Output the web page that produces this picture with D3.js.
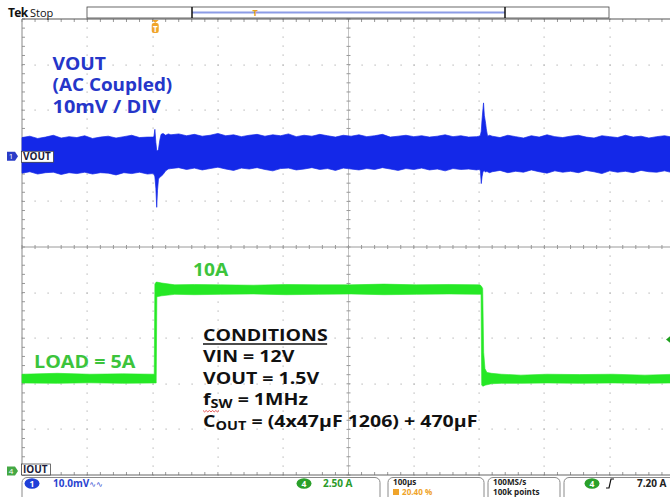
<!DOCTYPE html>
<html><head><meta charset="utf-8">
<script src="https://cdn.jsdelivr.net/npm/d3@7"></script>
<style>
html,body{margin:0;padding:0;background:#fff;overflow:hidden;}
svg{display:block;}
text{font-family:"Open Sans",sans-serif;}
</style></head><body>
<svg id="c" width="670" height="497"></svg>
<script>
// ---------------- DATA ----------------
// time in µs relative to trigger (100 µs/div, 20.40 % pre-trigger)
const timeDomain = [-204, 796];
// Channel 1: VOUT (AC coupled) noise envelope, mV
const voutTime = [-204,-192,-180,-168,-156,-144,-132,-120,-108,-96,-84,-72,-60,-48,-36,-24,-12,
  -4,-2,-0.5,1,2.3,3.5,5,7,9,12,16,20,
  24,36,48,60,72,84,96,108,120,132,144,156,168,180,192,204,216,228,240,252,264,276,288,300,312,324,336,348,360,372,384,396,408,420,432,444,456,468,480,492,
  496,498,499.3,500.5,502,502.8,504,506,507,509,512,
  516,528,540,552,564,576,588,600,612,624,636,648,660,672,684,696,708,720,732,744,756,768,780,792,796];
const voutHigh = [4.1,4.4,3.9,4.2,4.6,4.0,4.3,4.1,4.5,3.9,4.2,4.4,4.0,4.3,4.6,4.1,4.2,
  4.2,4.3,5.9,3.0,1.3,1.2,1.5,3.5,4.8,5.0,4.6,4.9,
  4.7,4.9,4.5,4.8,4.4,4.6,5.0,4.5,4.7,4.3,4.6,4.8,4.4,4.7,4.5,4.9,4.3,4.6,4.4,4.8,4.5,4.2,4.6,4.4,4.7,4.3,4.5,4.8,4.2,4.4,4.6,4.3,4.5,4.2,4.4,4.7,4.3,4.5,4.2,4.3,
  4.4,4.6,5.5,8.0,10.5,11.7,9.0,7.2,6.0,4.4,4.6,
  4.4,4.1,4.6,4.3,4.0,4.5,4.2,4.7,4.3,4.1,4.4,4.6,4.2,4.0,4.5,4.3,4.1,4.6,4.2,4.4,4.0,4.3,4.5,4.2,4.3];
const voutLow = [-3.7,-3.4,-3.9,-3.6,-3.5,-4.0,-3.6,-3.8,-3.5,-3.9,-3.6,-3.7,-4.1,-3.6,-3.8,-3.5,-3.9,
  -3.8,-3.9,-4.5,-7.0,-11.2,-7.5,-5.0,-4.6,-4.4,-4.0,-3.2,-2.8,
  -2.7,-2.5,-2.9,-2.6,-3.0,-2.7,-2.4,-2.8,-3.1,-2.6,-2.8,-2.5,-2.9,-3.2,-2.7,-2.6,-3.0,-2.8,-2.5,-2.9,-2.7,-3.1,-2.6,-2.8,-3.0,-2.7,-2.9,-2.5,-2.8,-3.1,-2.7,-2.9,-2.6,-3.0,-2.8,-3.2,-2.7,-2.9,-2.8,-3.0,
  -2.9,-3.2,-6.0,-4.5,-3.4,-3.3,-3.2,-3.5,-3.3,-3.4,-3.6,
  -3.4,-3.1,-3.6,-3.3,-3.5,-3.0,-3.4,-3.7,-3.2,-3.5,-3.3,-3.6,-3.1,-3.4,-3.8,-3.2,-3.5,-3.3,-3.6,-3.1,-3.4,-3.5,-3.2,-3.6,-3.4];
// Channel 4: IOUT load current envelope, A
const loadTime = [-204,-150,-100,-50,-1.5,-0.5,1.5,2.5,10,30,60,100,150,200,250,300,350,400,450,497,499,500,501.5,503,505,508,515,530,560,600,650,700,750,796];
const loadHigh = [5.3,5.35,5.3,5.32,5.3,10.25,10.35,10.35,10.3,10.2,10.22,10.2,10.18,10.22,10.2,10.2,10.24,10.2,10.22,10.2,10.15,10.1,10.0,6.5,5.6,5.4,5.35,5.3,5.25,5.3,5.28,5.3,5.25,5.3];
const loadLow  = [4.82,4.8,4.83,4.8,4.82,4.82,4.82,9.55,9.6,9.68,9.66,9.68,9.7,9.66,9.68,9.7,9.66,9.68,9.7,9.68,9.68,4.7,4.65,4.65,4.7,4.72,4.78,4.8,4.8,4.82,4.8,4.82,4.8,4.82];
// channel settings (per division) and offsets (divisions)
const ch1PerDiv = 10, ch1Position = 1.99;     // mV/div
const ch4PerDiv = 2.5, ch4Position = -4.91;   // A/div
const triggerLevel = 7.2;                     // A
// text
const voutNotes = ["VOUT", "(AC Coupled)", "10mV / DIV"];
const loadHighLabel = "10A";
const loadLowLabel = "LOAD = 5A";
const statusTexts = {ch1:"10.0mV", ch4:"2.50 A", horiz:"100µs", pretrig:"20.40 %", rate:"100MS/s", points:"100k points", trig:"7.20 A"};

// ---------------- LAYOUT ----------------
const svg = d3.select("#c");
const GX0 = 22, GX1 = 675, GY0 = 19, GY1 = 475, NX = 10, NY = 10;
const divW = (GX1 - GX0) / NX, divH = (GY1 - GY0) / NY;
const x = d3.scaleLinear().domain(timeDomain).range([GX0, GX1]);
const yOf = (perDiv, pos) => d3.scaleLinear()
  .domain([(-NY / 2 - pos) * perDiv, (NY / 2 - pos) * perDiv]).range([GY1, GY0]);
const y1 = yOf(ch1PerDiv, ch1Position);
const y4 = yOf(ch4PerDiv, ch4Position);

svg.append("rect").attr("width", 670).attr("height", 497).attr("fill", "#fff");

// graticule dots
const grid = svg.append("g");
const dots = [];
for (let i = 1; i < NX; i++) {
  if (i === NX / 2) continue;
  for (let m = 0; m <= NY * 5; m++) dots.push([GX0 + i * divW, GY0 + m * divH / 5]);
}
for (let j = 1; j < NY; j++) {
  if (j === NY / 2) continue;
  for (let m = 0; m <= NX * 5; m++) dots.push([GX0 + m * divW / 5, GY0 + j * divH]);
}
grid.selectAll("rect.d").data(dots).join("rect").attr("class", "d")
  .attr("x", d => Math.round(d[0]) - 0.5).attr("y", d => Math.round(d[1]) - 0.5)
  .attr("width", 1.2).attr("height", 1.2).attr("fill", "#b4b4b4");

// center cross with ticks
const cx = GX0 + divW * NX / 2, cy = GY0 + divH * NY / 2;
grid.append("line").attr("x1", cx).attr("x2", cx).attr("y1", GY0).attr("y2", GY1).attr("stroke", "#c4c4c4").attr("stroke-width", 1);
grid.append("line").attr("x1", GX0).attr("x2", GX1).attr("y1", cy).attr("y2", cy).attr("stroke", "#9a9a9a").attr("stroke-width", 1);
const tk = [];
for (let m = 0; m <= NY * 5; m++) { const yy = GY0 + m * divH / 5; tk.push([cx - 2, yy, cx + 2, yy]); tk.push([GX0, yy, GX0 + 3, yy]); }
for (let m = 0; m <= NX * 5; m++) { const xx = GX0 + m * divW / 5; tk.push([xx, cy - 2, xx, cy + 2]); tk.push([xx, GY0, xx, GY0 + 3]); tk.push([xx, GY1 - 3, xx, GY1]); }
grid.selectAll("line.t").data(tk).join("line").attr("class", "t")
  .attr("x1", d => d[0]).attr("y1", d => d[1]).attr("x2", d => d[2]).attr("y2", d => d[3])
  .attr("stroke", "#999").attr("stroke-width", 1);
// frame
grid.append("line").attr("x1", GX0).attr("x2", GX1).attr("y1", GY0).attr("y2", GY0).attr("stroke", "#555").attr("stroke-width", 1.2);
grid.append("line").attr("x1", GX0).attr("x2", GX1).attr("y1", GY1).attr("y2", GY1).attr("stroke", "#666").attr("stroke-width", 1.2);
grid.append("line").attr("x1", GX0).attr("x2", GX0).attr("y1", GY0).attr("y2", GY1).attr("stroke", "#888").attr("stroke-width", 1);

// ---------------- TRACES ----------------
const areaFor = (T, H, L, ys) => d3.area()
  .x(i => x(T[i])).y0(i => ys(L[i])).y1(i => ys(H[i]));
svg.append("path").datum(d3.range(voutTime.length))
  .attr("d", areaFor(voutTime, voutHigh, voutLow, y1))
  .attr("fill", "#1428e8").attr("stroke", "#1428e8").attr("stroke-width", 0.7);
svg.append("path").datum(d3.range(loadTime.length))
  .attr("d", areaFor(loadTime, loadHigh, loadLow, y4))
  .attr("fill", "#25e825").attr("stroke", "#25e825").attr("stroke-width", 0.6);

// trigger level marker (right edge)
const trigY = y4(triggerLevel);
svg.append("path").attr("d", `M666,${trigY} l5,-4 v8 z`).attr("fill", "#1fa01f");

// ---------------- ANNOTATIONS ----------------
const stretched = (g, tx, ty, sx, txt, size, fill, fam) =>
  g.append("text").attr("transform", `translate(${tx},${ty}) scale(${sx},1)`)
    .attr("font-family", fam || null)
    .attr("font-size", size).attr("font-weight", 700).attr("fill", fill).text(txt);
const ann = svg.append("g");
voutNotes.forEach((t, i) => stretched(ann, 52.5, 70 + i * 21.3, [1.1, 1.08, 1.14][i], t, 17.5, "#2536c9", "Liberation Sans"));
stretched(ann, 193, 276, 1.13, loadHighLabel, 17, "#3cc43c");
stretched(ann, 34, 368, 1.16, loadLowLabel, 17, "#3cc43c");

// conditions block
const cond = ann.append("g").attr("transform", "translate(203,0) scale(1.26,1)");
const condLine = (yb) => cond.append("text").attr("y", yb).attr("font-size", 15.5).attr("font-weight", 700).attr("fill", "#111");
condLine(341).text("CONDITIONS");
cond.append("line").attr("x1", 0).attr("x2", 98.5).attr("y1", 344).attr("y2", 344).attr("stroke", "#111").attr("stroke-width", 1.4);
condLine(362.5).text("VIN = 12V");
condLine(384).text("VOUT = 1.5V");
const fLine = condLine(405.5);
fLine.append("tspan").text("f");
fLine.append("tspan").attr("font-size", 11.5).attr("dy", 3).text("SW");
fLine.append("tspan").attr("dy", -3).text(" = 1MHz");
const cLine = condLine(427);
cLine.append("tspan").text("C");
cLine.append("tspan").attr("font-size", 11.5).attr("dy", 3).text("OUT");
cLine.append("tspan").attr("dy", -3).text(" = (4x47µF 1206) + 470µF");
// spell-check squiggle under fsw
let sq = "M203,410.5";
for (let i = 0; i < 10; i++) sq += ` l1.6,${i % 2 ? -1.4 : 1.4}`;
ann.append("path").attr("d", sq).attr("fill", "none").attr("stroke", "#e03030").attr("stroke-width", 0.8);

// ---------------- SCOPE CHROME ----------------
const topG = svg.append("g");
topG.append("text").attr("x", 8).attr("y", 17).attr("font-size", 12).attr("font-weight", 700).attr("fill", "#111")
  .attr("letter-spacing", -0.6).text("Tek");
topG.append("text").attr("x", 30).attr("y", 17).attr("font-size", 11).attr("fill", "#111").text("Stop");
topG.append("rect").attr("x", 87).attr("y", 7).attr("width", 522).attr("height", 11).attr("fill", "#fff").attr("stroke", "#444").attr("stroke-width", 0.8);
topG.append("line").attr("x1", 192).attr("x2", 505).attr("y1", 12.5).attr("y2", 12.5).attr("stroke", "#8c9ce6").attr("stroke-width", 2);
topG.append("line").attr("x1", 192).attr("x2", 192).attr("y1", 7).attr("y2", 18).attr("stroke", "#111").attr("stroke-width", 1.5);
topG.append("line").attr("x1", 505).attr("x2", 505).attr("y1", 7).attr("y2", 18).attr("stroke", "#111").attr("stroke-width", 1.5);
topG.append("text").attr("x", 255).attr("y", 16).attr("text-anchor", "middle").attr("font-size", 9).attr("font-weight", 700).attr("fill", "#e8a020").text("T");
// trigger position marker
const tpx = x(0);
topG.append("path").attr("d", `M${tpx - 3.5},20 h7 l-3.5,3 z`).attr("fill", "#f0a42a");
topG.append("rect").attr("x", tpx - 3.5).attr("y", 23).attr("width", 7).attr("height", 10).attr("rx", 2).attr("fill", "#f0a42a");
topG.append("text").attr("x", tpx).attr("y", 31.5).attr("text-anchor", "middle").attr("font-size", 8).attr("font-weight", 700).attr("fill", "#fff").text("T");

// channel ground markers
const marker = (yy, col, num, lab, w) => {
  const g = svg.append("g").attr("font-family", "Liberation Sans");
  g.append("path").attr("d", `M7,${yy - 4.5} h8 l3,4.5 l-3,4.5 h-8 z`).attr("fill", col);
  g.append("text").attr("x", 11).attr("y", yy + 3).attr("text-anchor", "middle").attr("font-size", 8).attr("fill", "#fff").text(num);
  g.append("rect").attr("x", 21.5).attr("y", Math.min(yy - 5, 464)).attr("width", w).attr("height", 11).attr("fill", "#fff").attr("stroke", "#333").attr("stroke-width", 0.7);
  g.append("text").attr("x", 23).attr("y", Math.min(yy + 4, 473)).attr("font-size", 10).attr("font-weight", 700).attr("fill", "#1a1a3a").text(lab);
};
marker(y1(0), "#2a3cc8", "1", "VOUT", 32);
marker(y4(0), "#44a844", "4", "IOUT", 29);

// status bar
const sb = svg.append("g").attr("font-family", "Liberation Sans");
const box = (x0, x1) => sb.append("rect").attr("x", x0).attr("y", 477.5).attr("width", x1 - x0).attr("height", 26).attr("rx", 5)
  .attr("fill", "#fff").attr("stroke", "#8a8a8a").attr("stroke-width", 1);
box(22, 380); box(388, 484); box(488, 560); box(564, 690);
const badge = (cx0, col, num) => {
  sb.append("ellipse").attr("cx", cx0).attr("cy", 483.5).attr("rx", 7.5).attr("ry", 5.2).attr("fill", col);
  sb.append("text").attr("x", cx0).attr("y", 486.6).attr("text-anchor", "middle").attr("font-size", 8.5).attr("font-weight", 700).attr("fill", "#fff").text(num);
};
const st = (xx, yy, txt, col, fs) => sb.append("text").attr("x", xx).attr("y", yy).attr("font-size", fs || 10)
  .attr("font-weight", 700).attr("fill", col).text(txt);
badge(32, "#1f3fd8", "1");
st(53, 487, statusTexts.ch1, "#2a44d0")
  .append("tspan").attr("font-family", "DejaVu Sans").attr("font-weight", 400).attr("font-size", 8).text("\u223F\u223F");
badge(304, "#2aa02a", "4");
st(323, 487, statusTexts.ch4, "#2a9a2a");
st(393, 485.2, statusTexts.horiz, "#222", 8.1);
sb.append("rect").attr("x", 393).attr("y", 489).attr("width", 6).attr("height", 6).attr("fill", "#f0a42a");
st(402, 495.1, statusTexts.pretrig, "#f0a42a", 8.1);
st(493, 485.2, statusTexts.rate, "#222", 8.1);
st(493, 495.1, statusTexts.points, "#222", 8.1);
badge(592, "#2aa02a", "4");
sb.append("path").attr("d", "M606,488 h3 l2,-9 h3").attr("fill", "none").attr("stroke", "#111").attr("stroke-width", 1.2);
st(637, 487, statusTexts.trig, "#222");
</script>
</body></html>
